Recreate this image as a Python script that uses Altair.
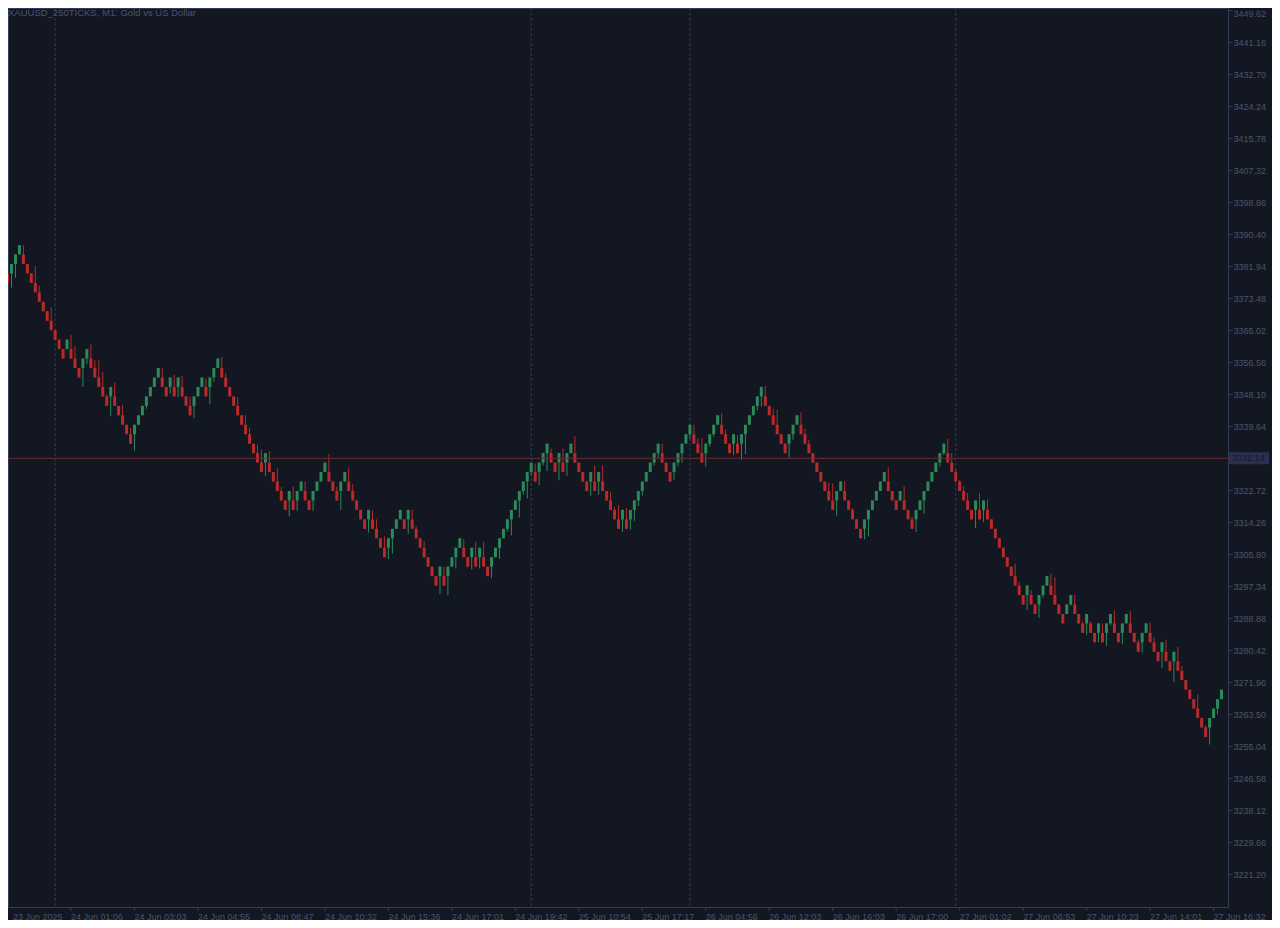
import altair as alt
import pandas as pd

# ---- data (Renko 2.50 bricks, XAUUSD) ----
LEVEL0 = 3387.5   # price of brick level 0
BOX = 2.5         # brick size
first_open_level = 3

# brick colours in order: U = up (green), D = down (red)
brick_dirs = (
    "D UUU DDDDDDDDDDD U DDD UU DDDDD U DDDDD UUUUUUU DD U D U DDD UUU D UUU "
    "DDDDDDDDDDD U DDDDD U D UU DD UUUU DDD UU DDDDD U DDDD UUUU D U DDDDDDD "
    "U D UUUU DD U D U DD UUUUUUUUUUU D UUU DD U D UU DDDD U D U DDDDD "
    "U D UUUUUUUU DDD UUUUU DDD UUUU DDD U D UUUUUU DDDDDD UUU DDDDDDDDD UU "
    "DDDDD UUUUUU DDD U DDD UUUUUUUU DDDDDDD U D U DDDDDDDDDD U DD UUU DDDD "
    "UU DDD U DD U D UU DD UU DDD UU DDD U DD U DDDDDDDD UUUU"
).replace(" ", "")

# wick tip (brick level) for candles whose shadow sticks out of the body
wick_tip_levels = {
    1: 4.5, 2: 3.45, 4: 0.0, 7: 2.2, 8: 4.3, 11: 6.56, 16: 9.5, 17: 10.7,
    19: 15.0, 20: 12.6, 21: 10.5, 22: 12.2, 23: 12.2, 24: 13.4, 25: 15.8,
    26: 18.1, 27: 14.5, 29: 16.9, 31: 19.35, 32: 21.75, 35: 17.3, 39: 13.0,
    41: 15.7, 42: 13.7, 43: 16.1, 44: 13.85, 46: 16.0, 47: 18.3, 50: 14.1,
    51: 16.8, 52: 14.45, 54: 11.85, 55: 13.5, 58: 16.1, 60: 18.0, 61: 19.3,
    63: 21.1, 64: 21.6, 65: 24.4, 66: 21.8, 68: 23.6, 69: 25.6, 71: 28.7,
    72: 25.55, 73: 28.1, 75: 25.0, 77: 28.1, 81: 22.1, 83: 25.55, 84: 28.0,
    86: 23.5, 87: 25.3, 91: 30.4, 92: 28.06, 93: 29.0, 95: 30.8, 96: 33.2,
    97: 32.6, 101: 30.5, 102: 28.0, 103: 29.7, 105: 31.3, 109: 36.9,
    110: 34.05, 111: 37.0, 113: 34.2, 115: 31.1, 117: 34.3, 118: 31.4,
    119: 34.2, 120: 31.4, 122: 35.2, 124: 33.2, 126: 30.3, 127: 30.7,
    129: 28.8, 130: 26.4, 131: 26.8, 132: 24.4, 133: 23.1, 134: 25.4,
    135: 23.3, 136: 23.9, 137: 21.5, 139: 24.85, 140: 21.5, 141: 24.4,
    143: 20.2, 147: 26.5, 148: 23.3, 149: 26.4, 150: 23.3, 152: 26.1,
    153: 27.7, 154: 27.5, 155: 30.3, 156: 27.8, 157: 30.1, 158: 29.15,
    159: 27.6, 160: 26.5, 163: 23.3, 164: 22.5, 165: 21.0, 168: 24.8,
    169: 23.4, 170: 23.0, 172: 20.5, 173: 19.0, 174: 20.4, 175: 20.4,
    176: 23.4, 177: 21.3, 178: 20.3, 180: 17.8, 181: 19.5, 183: 22.2,
    184: 20.1, 185: 22.7, 186: 22.1, 189: 17.5, 190: 17.1, 191: 14.9,
    193: 17.3, 194: 17.4, 197: 22.5, 198: 20.6, 200: 17.7, 201: 19.4,
    202: 20.6, 207: 25.1, 208: 25.2, 209: 28.6, 211: 24.96, 213: 27.8,
    216: 31.1, 217: 30.8, 222: 23.5, 226: 25.5, 228: 28.7, 229: 30.3,
    231: 28.4, 235: 23.4, 236: 22.2, 237: 20.5, 238: 22.0, 239: 23.7,
    240: 24.85, 241: 25.5, 242: 26.2, 244: 29.9, 245: 26.2, 246: 29.3,
    247: 26.9, 254: 33.7, 255: 35.6, 257: 38.6, 258: 36.5, 260: 39.4,
    261: 37.3, 263: 34.7, 264: 35.1, 268: 38.1, 269: 37.0, 271: 39.8,
    272: 41.2, 273: 39.8, 275: 42.0, 276: 40.0, 277: 42.4, 278: 40.2,
    279: 38.6, 281: 42.2, 283: 38.7, 285: 41.7, 286: 43.1, 288: 39.9,
    289: 41.5, 291: 44.7, 292: 41.7, 294: 46.2, 295: 42.5, 296: 44.5,
    300: 47.5, 302: 50.8, 303: 52.8, 305: 49.6,
}

current_price = 3331.14
separator_idx = [12, 132, 172, 239]

x_tick_idx = [0, 16, 32, 48, 64, 80, 96, 112, 128, 144, 160, 176, 192, 208,
              224, 240, 256, 272, 288, 304]
x_tick_labels = ["23 Jun 2025", "24 Jun 01:06", "24 Jun 03:03", "24 Jun 04:55",
                 "24 Jun 08:47", "24 Jun 10:32", "24 Jun 15:36", "24 Jun 17:01",
                 "24 Jun 19:42", "25 Jun 10:54", "25 Jun 17:17", "26 Jun 04:56",
                 "26 Jun 12:03", "26 Jun 16:03", "26 Jun 17:00", "27 Jun 01:02",
                 "27 Jun 06:53", "27 Jun 10:23", "27 Jun 14:01", "27 Jun 16:32"]
y_tick_values = [3449.62, 3441.16, 3432.70, 3424.24, 3415.78, 3407.32, 3398.86,
                 3390.40, 3381.94, 3373.48, 3365.02, 3356.56, 3348.10, 3339.64,
                 3322.72, 3314.26, 3305.80, 3297.34, 3288.88, 3280.42, 3271.96,
                 3263.50, 3255.04, 3246.58, 3238.12, 3229.66, 3221.20]

# ---- build OHLC from the bricks ----
GREEN = "#2a8a58"
RED = "#b92a2a"
rows = []
prev_dir = None
prev_open = prev_close = None
for i, d in enumerate(brick_dirs):
    if i == 0:
        o = first_open_level
    elif d == prev_dir:
        o = prev_close
    else:
        o = prev_open
    c = o - 1 if d == "U" else o + 1
    hi_lvl, lo_lvl = min(o, c), max(o, c)
    if i in wick_tip_levels:
        t = wick_tip_levels[i]
        hi_lvl = min(hi_lvl, t)
        lo_lvl = max(lo_lvl, t)
    rows.append({
        "i": i,
        "open": LEVEL0 - BOX * o,
        "close": LEVEL0 - BOX * c,
        "high": LEVEL0 - BOX * hi_lvl,
        "low": LEVEL0 - BOX * lo_lvl,
        "col": GREEN if d == "U" else RED,
    })
    prev_dir, prev_open, prev_close = d, o, c
df = pd.DataFrame(rows)

BG = "#131722"
BORDER = "#343b58"
TXT = "#4b5470"
FONT = "Liberation Sans"

W, H = 1220, 899
x_scale = alt.Scale(domain=[1.375, 306.375], nice=False, zero=False)
y_scale = alt.Scale(domain=[3212.55, 3450.15], nice=False, zero=False)

y_axis = alt.Axis(orient="right", values=y_tick_values, format=".2f",
                  tickSize=4, tickColor=BORDER, domainColor=BORDER,
                  labelColor=TXT, labelFont=FONT, labelFontSize=9,
                  labelPadding=1, labelOverlap=False, grid=False, title=None,
                  labelFlush=5, labelFlushOffset=1)

def Y(field):
    return alt.Y(field, scale=y_scale, axis=y_axis)

base = alt.Chart(df)

separators = alt.Chart(pd.DataFrame({"i": separator_idx})).mark_rule(
    color="#2f3a5c", strokeWidth=1, strokeDash=[3, 2]
).encode(x=alt.X("i:Q", scale=x_scale, axis=None))

wicks = base.mark_rule(strokeWidth=1, clip=True).encode(
    x=alt.X("i:Q", scale=x_scale, axis=None),
    y=Y("low:Q"),
    y2="high:Q",
    color=alt.Color("col:N", scale=None),
)

bodies = base.mark_bar(size=3, clip=True, strokeWidth=0).encode(
    x=alt.X("i:Q", scale=x_scale, axis=None),
    y=Y("open:Q"),
    y2="close:Q",
    color=alt.Color("col:N", scale=None),
)

price_df = pd.DataFrame({"p": [current_price], "t": [f"{current_price:.2f}"]})
price_line = alt.Chart(price_df).mark_rule(color="#6b2c2c", strokeWidth=1).encode(
    y=Y("p:Q")
)
price_box = alt.Chart(price_df).mark_rect(
    color="#2b3050", yOffset=-6, y2Offset=6
).encode(
    x=alt.value(W + 1), x2=alt.value(W + 41),
    y=Y("p:Q"), y2="p:Q",
)
price_text = alt.Chart(price_df).mark_text(
    align="left", baseline="middle", font=FONT, fontSize=9, color="#141827"
).encode(
    x=alt.value(W + 4), y=Y("p:Q"), text="t:N"
)

xt = pd.DataFrame({
    "i": x_tick_idx,
    "lx": [max(v, 1.375) for v in x_tick_idx],
    "label": x_tick_labels,
})
x_ticks = alt.Chart(xt).mark_rule(color=BORDER, strokeWidth=1).encode(
    x=alt.X("i:Q", scale=x_scale, axis=None),
    y=alt.value(H), y2=alt.value(H + 4),
)
x_labels = alt.Chart(xt).mark_text(
    align="left", baseline="alphabetic", font=FONT, fontSize=9, color=TXT
).encode(
    x=alt.X("lx:Q", scale=x_scale, axis=None),
    y=alt.value(H + 12.5),
    text="label:N",
)

title = alt.Chart(pd.DataFrame({"t": ["XAUUSD_250TICKS, M1:  Gold vs US Dollar"]})).mark_text(
    align="left", baseline="middle", font=FONT, fontSize=9.5, color=TXT
).encode(x=alt.value(0), y=alt.value(5), text="t:N")

chart = alt.layer(
    separators, wicks, bodies, price_line, price_box, price_text,
    x_ticks, x_labels, title
).properties(
    width=W, height=H,
    autosize=alt.AutoSizeParams(type="none"),
    padding={"left": 0, "top": 0, "right": 44, "bottom": 13},
    background=BG,
).configure_view(stroke=BORDER, strokeWidth=1)

chart.save("out.html", embed_options={"renderer": "svg", "actions": False})
